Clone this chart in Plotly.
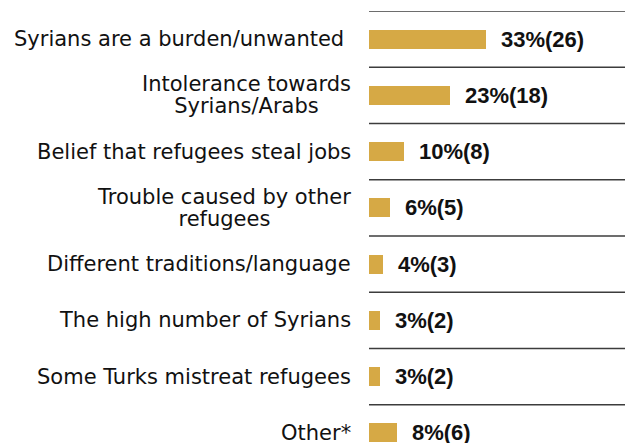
import plotly.graph_objects as go

# reasons, top to bottom
reasons = [
    "Syrians are a burden/unwanted\u00a0",
    "Intolerance towards<br>Syrians/Arabs",
    "Belief that refugees steal jobs",
    "Trouble caused by other<br>refugees",
    "Different traditions/language",
    "The high number of Syrians",
    "Some Turks mistreat refugees",
    "Other*",
]
pct = [33, 23, 10, 6, 4, 3, 3, 8]
counts = [26, 18, 8, 5, 3, 2, 2, 6]

bar_color = "#D6A945"
pos = list(range(len(reasons)))

fig = go.Figure()
fig.add_trace(go.Bar(
    x=pct,
    y=pos,
    orientation="h",
    width=0.34,
    marker=dict(color=bar_color, line=dict(width=0)),
    hoverinfo="skip",
    showlegend=False))

annotations = []
for i, r in enumerate(reasons):
    # category label left of the plot area
    annotations.append(dict(
        x=0, xref="paper", y=i, yref="y",
        xanchor="right", yanchor="middle", xshift=-16,
        text=f'<span style="font-size:21px">{r}</span>',
        align="center", showarrow=False,
        font=dict(family="DejaVu Sans", size=17, color="#111111")))
    # value label right of the bar
    annotations.append(dict(
        x=pct[i], xref="x", y=i, yref="y",
        xanchor="left", yanchor="middle", xshift=13,
        text=f"{pct[i]}%({counts[i]})",
        showarrow=False,
        font=dict(family="Liberation Sans", size=22, color="#111111", weight="bold")))

# separator lines above each category
shapes = []
for i in pos:
    shapes.append(dict(
        type="line", xref="paper", x0=0, x1=1, yref="y", y0=i - 0.5, y1=i - 0.5,
        line=dict(color="#3c3c3c", width=1.5)))

fig.update_layout(
    width=625,
    height=443,
    margin={'l': 369, 'b': 0, 't': 11, 'r': 0},
    plot_bgcolor="white",
    paper_bgcolor="white",
    xaxis=dict(range=[0, 72.3], visible=False, fixedrange=True),
    yaxis=dict(range=[7.18, -0.5], visible=False, fixedrange=True),
    annotations=annotations,
    shapes=shapes,
    bargap=0)

fig.write_html("out.html", config={"displayModeBar": False},
               post_script="document.body.style.margin='0px';document.body.style.overflow='hidden';")
